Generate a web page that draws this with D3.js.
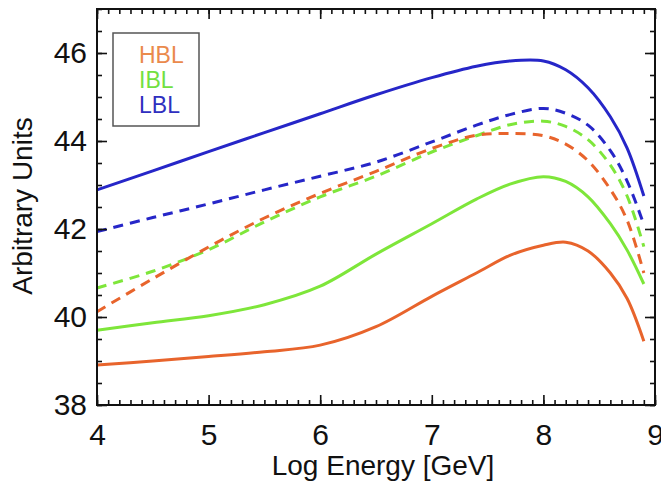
<!DOCTYPE html>
<html>
<head>
<meta charset="utf-8">
<script src="https://cdn.jsdelivr.net/npm/d3@7"></script>
<style>
  body { margin: 0; background: #fff; }
  svg { display: block; font-family: "Liberation Sans", Arial, sans-serif; }
</style>
</head>
<body>
<div id="chart"></div>
<script>
// Log energy grid shared by all curves
const energy = [4, 4.5, 5, 5.5, 6, 6.5, 7, 7.4, 7.7, 8.0, 8.2, 8.4, 8.6, 8.75, 8.9];

// solid curves
const lblSolid = [42.89, 43.32, 43.76, 44.19, 44.62, 45.05, 45.44, 45.70, 45.82, 45.82, 45.62, 45.21, 44.55, 43.84, 42.75];
const iblSolid = [39.70, 39.87, 40.03, 40.28, 40.70, 41.43, 42.12, 42.68, 43.02, 43.19, 43.08, 42.73, 42.12, 41.52, 40.75];
const hblSolid = [38.91, 39.00, 39.10, 39.21, 39.36, 39.78, 40.47, 41.00, 41.40, 41.63, 41.70, 41.50, 41.00, 40.42, 39.45];

// dashed curves
const lblDashed = [41.94, 42.26, 42.57, 42.89, 43.20, 43.52, 43.98, 44.36, 44.60, 44.74, 44.63, 44.36, 43.78, 43.09, 42.10];
const iblDashed = [40.66, 41.04, 41.53, 42.16, 42.73, 43.20, 43.75, 44.12, 44.37, 44.45, 44.33, 44.03, 43.45, 42.75, 41.60];
const hblDashed = [40.12, 40.87, 41.59, 42.25, 42.81, 43.31, 43.83, 44.13, 44.17, 44.12, 43.93, 43.55, 42.90, 42.20, 41.00];

const xTicks = [4, 5, 6, 7, 8, 9];
const yTicks = [38, 40, 42, 44, 46];
const legendLabels = ['HBL', 'IBL', 'LBL'];

const colors = { HBL: '#e8642c', IBL: '#7ee63a', LBL: '#2626c8' };
const legendColors = { HBL: '#ea8a4c', IBL: '#72e040', LBL: '#2f2fbf' };

const series = [
  { name: 'LBL', values: lblSolid, dashed: false },
  { name: 'IBL', values: iblSolid, dashed: false },
  { name: 'HBL', values: hblSolid, dashed: false },
  { name: 'LBL', values: lblDashed, dashed: true },
  { name: 'IBL', values: iblDashed, dashed: true },
  { name: 'HBL', values: hblDashed, dashed: true }
];

const width = 661, height = 489;
const margin = { top: 9, right: 6, bottom: 84, left: 97 };
const plotW = width - margin.left - margin.right;
const plotH = height - margin.top - margin.bottom;

const svg = d3.select('#chart')
  .append('svg')
  .attr('width', width)
  .attr('height', height);

const g = svg.append('g')
  .attr('transform', `translate(${margin.left},${margin.top})`);

const x = d3.scaleLinear().domain([4, 9]).range([0, plotW]);
const y = d3.scaleLinear().domain([38, 47]).range([plotH, 0]);

// Curves
const line = d3.line()
  .x(d => x(d[0]))
  .y(d => y(d[1]))
  .curve(d3.curveCatmullRom.alpha(0.5));

g.selectAll('path.curve')
  .data(series)
  .join('path')
  .attr('class', 'curve')
  .attr('fill', 'none')
  .attr('stroke', d => colors[d.name])
  .attr('stroke-width', 3)
  .attr('stroke-dasharray', d => d.dashed ? '10,7' : null)
  .attr('d', d => line(d.values.map((v, i) => [energy[i], v])));

// Axes: ticks point inward on all four sides (IDL style)
const minorX = d3.range(4, 9.001, 0.1);
const minorY = d3.range(38, 47.001, 0.5);

function styleAxis(sel) {
  sel.select('.domain').remove();
  sel.selectAll('line').attr('stroke', '#111').attr('stroke-width', 1.6);
  sel.selectAll('text').attr('fill', '#111').attr('font-size', 30);
}

g.append('g')
  .attr('transform', `translate(0,${plotH})`)
  .call(d3.axisBottom(x).tickValues(minorX).tickSize(-5).tickFormat(''))
  .call(styleAxis);
g.append('g')
  .attr('transform', `translate(0,${plotH})`)
  .call(d3.axisBottom(x).tickValues(xTicks).tickSize(-10).tickPadding(19).tickFormat(d3.format('d')))
  .call(styleAxis);

g.append('g')
  .call(d3.axisTop(x).tickValues(minorX).tickSize(-5).tickFormat(''))
  .call(styleAxis);
g.append('g')
  .call(d3.axisTop(x).tickValues(xTicks).tickSize(-10).tickFormat(''))
  .call(styleAxis);

g.append('g')
  .call(d3.axisLeft(y).tickValues(minorY).tickSize(-5).tickFormat(''))
  .call(styleAxis);
g.append('g')
  .call(d3.axisLeft(y).tickValues(yTicks).tickSize(-10).tickPadding(10).tickFormat(d3.format('d')))
  .call(styleAxis);

g.append('g')
  .attr('transform', `translate(${plotW},0)`)
  .call(d3.axisRight(y).tickValues(minorY).tickSize(-5).tickFormat(''))
  .call(styleAxis);
g.append('g')
  .attr('transform', `translate(${plotW},0)`)
  .call(d3.axisRight(y).tickValues(yTicks).tickSize(-10).tickFormat(''))
  .call(styleAxis);

// frame
g.append('rect')
  .attr('width', plotW)
  .attr('height', plotH)
  .attr('fill', 'none')
  .attr('stroke', '#111')
  .attr('stroke-width', 2);

// Axis titles
svg.append('text')
  .attr('x', 383)
  .attr('y', 475)
  .attr('text-anchor', 'middle')
  .attr('font-size', 28)
  .attr('fill', '#111')
  .text('Log Energy [GeV]');

svg.append('text')
  .attr('transform', 'translate(32,206) rotate(-90)')
  .attr('text-anchor', 'middle')
  .attr('font-size', 28)
  .attr('fill', '#111')
  .text('Arbitrary Units');

// Legend
const legend = svg.append('g');
legend.append('rect')
  .attr('x', 113)
  .attr('y', 33)
  .attr('width', 86)
  .attr('height', 93)
  .attr('fill', '#fff')
  .attr('stroke', '#555')
  .attr('stroke-width', 1.5);

legend.selectAll('text')
  .data(legendLabels)
  .join('text')
  .attr('x', 139)
  .attr('y', (d, i) => 63 + i * 25)
  .attr('font-size', 23)
  .attr('fill', d => legendColors[d])
  .text(d => d);
</script>
</body>
</html>
